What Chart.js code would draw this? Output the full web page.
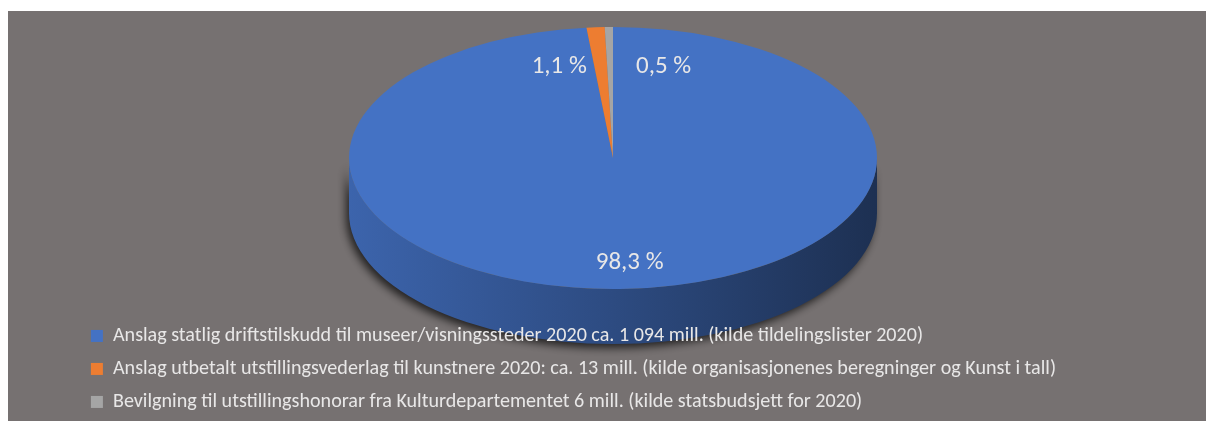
<!DOCTYPE html>
<html lang="no">
<head>
<meta charset="utf-8">
<script src="https://cdn.jsdelivr.net/npm/chart.js@4"></script>
<style>
  html, body { margin: 0; background: #fff; width: 1206px; height: 421px; overflow: hidden; }
  #chart { position: absolute; left: 8px; top: 11px; background: #767171; }
</style>
</head>
<body>
<canvas id="chart" width="1198" height="411"></canvas>
<script>
const categories = [
    'Anslag statlig driftstilskudd til museer/visningssteder 2020 ca. 1 094 mill. (kilde tildelingslister 2020)',
    'Anslag utbetalt utstillingsvederlag til kunstnere 2020: ca. 13 mill. (kilde organisasjonenes beregninger og Kunst i tall)',
    'Bevilgning til utstillingshonorar fra Kulturdepartementet 6 mill. (kilde statsbudsjett for 2020)'
];
const shares = [98.3, 1.1, 0.5];
const sliceColors = ['#4472C4', '#ED7D31', '#A5A5A5'];

const textColor = '#e8e7e7';
const fontFamily = 'Carlito, "Liberation Sans Narrow", Lato, sans-serif';

// size the font so the first legend line is about as wide as in the original
const probe = document.createElement('canvas').getContext('2d');
probe.font = `20px ${fontFamily}`;
const legendSize = Math.round(20 * 810 / probe.measureText(categories[0]).width * 10) / 10;
const labelSize = Math.round(legendSize * 1.22);

// where the flattened top face lands, and how thick the side wall is
const disc = { x: 605, y: 147, rx: 264, ry: 131, depth: 55 };
// small slices get their label pushed to one side of the wedge
const labelNudge = [0, -14, 26];

function onDisc(angle, f, dy = 0) {
    return { x: disc.x + disc.rx * f * Math.cos(angle), y: disc.y + dy + disc.ry * f * Math.sin(angle) };
}

function shade(hex, k) {
    const n = parseInt(hex.slice(1), 16);
    const c = [n >> 16, (n >> 8) & 255, n & 255].map(v => Math.round(v * k));
    return `rgb(${c.join(',')})`;
}

const tiltPlugin = {
    id: 'tilt',
    afterInit(chart) {
        // legend text sits on top of the pie in the original
        const legend = chart.legend;
        legend._layers = () => [{ z: 1, draw: area => legend.draw(area) }];
    },
    beforeDatasetsDraw(chart) {
        const ctx = chart.ctx;
        const arcs = chart.getDatasetMeta(0).data;

        // side wall: only the front half (0..PI) shows
        ctx.save();
        ctx.shadowColor = 'rgba(0,0,0,0.7)';
        ctx.shadowBlur = 9;
        ctx.shadowOffsetX = -3;
        ctx.shadowOffsetY = 4;
        arcs.forEach((arc, i) => {
            const a0 = Math.max(arc.startAngle, 0);
            const a1 = Math.min(arc.endAngle, Math.PI);
            if (a1 <= a0) return;
            const grad = ctx.createLinearGradient(disc.x - disc.rx, 0, disc.x + disc.rx, 0);
            grad.addColorStop(0, shade(sliceColors[i], 0.88));
            grad.addColorStop(0.5, shade(sliceColors[i], 0.66));
            grad.addColorStop(1, shade(sliceColors[i], 0.42));
            const end = onDisc(a1, 1, disc.depth);
            ctx.beginPath();
            ctx.ellipse(disc.x, disc.y, disc.rx, disc.ry, 0, a0, a1);
            ctx.lineTo(end.x, end.y);
            ctx.ellipse(disc.x, disc.y + disc.depth, disc.rx, disc.ry, 0, a1, a0, true);
            ctx.closePath();
            ctx.fillStyle = grad;
            ctx.fill();
        });
        ctx.restore();

        // squash the library's round pie onto the tilted disc
        const a = arcs[0];
        ctx.save();
        ctx.translate(disc.x, disc.y);
        ctx.scale(disc.rx / a.outerRadius, disc.ry / a.outerRadius);
        ctx.translate(-a.x, -a.y);
    },
    afterDatasetsDraw(chart) {
        const ctx = chart.ctx;
        ctx.restore();

        const arcs = chart.getDatasetMeta(0).data;
        ctx.save();
        ctx.font = `${labelSize}px ${fontFamily}`;
        ctx.fillStyle = textColor;
        ctx.textBaseline = 'middle';
        arcs.forEach((arc, i) => {
            const mid = (arc.startAngle + arc.endAngle) / 2;
            const text = shares[i].toFixed(1).replace('.', ',') + ' %';
            const nudge = labelNudge[i];
            const p = onDisc(mid, nudge === 0 ? 0.8 : 0.7);
            ctx.textAlign = nudge === 0 ? 'center' : (nudge < 0 ? 'right' : 'left');
            ctx.fillText(text, p.x + nudge + (nudge === 0 ? 6 : 0), p.y);
        });
        ctx.restore();
    }
};

new Chart(document.getElementById('chart'), {
    type: 'pie',
    data: {
        labels: categories,
        datasets: [{
            data: shares,
            backgroundColor: sliceColors,
            borderWidth: 0,
            clip: false
        }]
    },
    options: {
        responsive: false,
        animation: false,
        events: [],
        layout: { padding: { left: 70, right: 0, top: 0, bottom: 0 } },
        plugins: {
            legend: {
                position: 'bottom',
                align: 'start',
                labels: {
                    color: textColor,
                    font: { family: fontFamily, size: legendSize },
                    boxWidth: 12,
                    boxHeight: 12,
                    padding: 33 - legendSize
                }
            },
            tooltip: { enabled: false }
        }
    },
    plugins: [tiltPlugin]
});
</script>
</body>
</html>
